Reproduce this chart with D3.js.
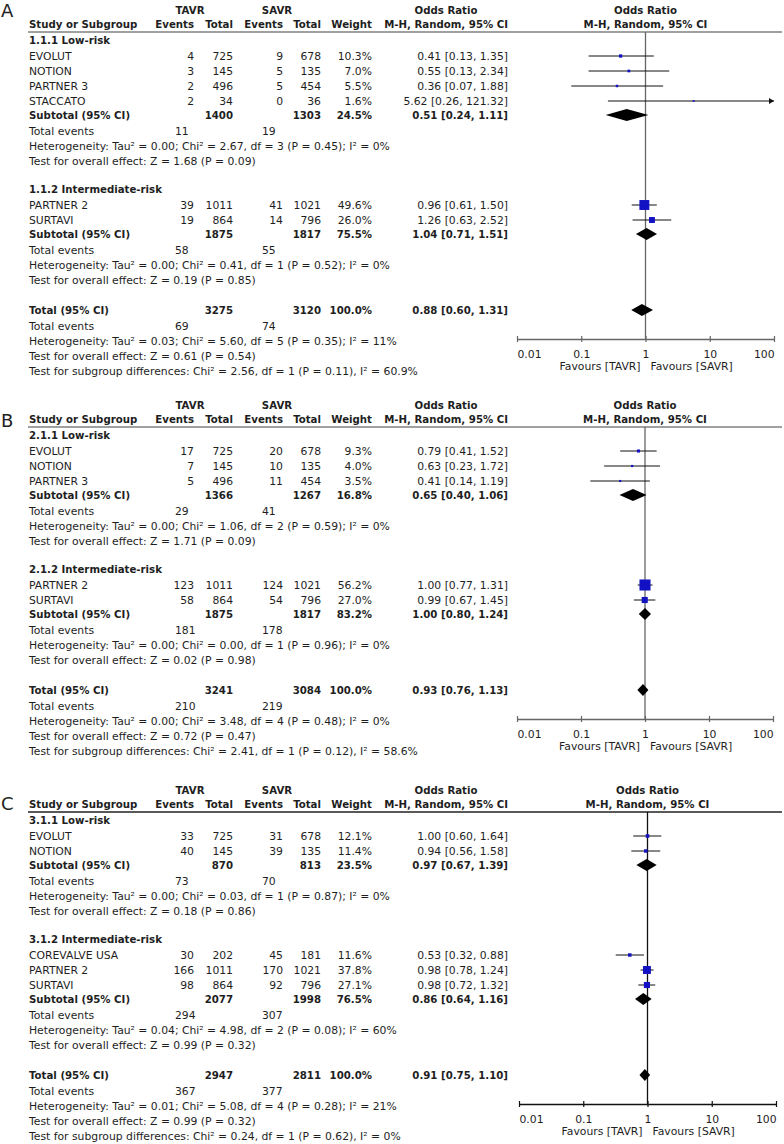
<!DOCTYPE html>
<html><head><meta charset="utf-8">
<script src="https://cdn.jsdelivr.net/npm/d3@7"></script>
<style>
html,body{margin:0;padding:0;background:#fff;}
svg text{font-family:"DejaVu Sans",sans-serif;}
</style></head>
<body><svg id="chart" width="784" height="1144"></svg>
<script>
// ---------- DATA ----------
const panelLetters = ["A", "B", "C"];
const subgroupTitles = [
  ["1.1.1 Low-risk", "1.1.2 Intermediate-risk"],
  ["2.1.1 Low-risk", "2.1.2 Intermediate-risk"],
  ["3.1.1 Low-risk", "3.1.2 Intermediate-risk"]
];
const studyNames = [
  [["EVOLUT", "NOTION", "PARTNER 3", "STACCATO"], ["PARTNER 2", "SURTAVI"]],
  [["EVOLUT", "NOTION", "PARTNER 3"], ["PARTNER 2", "SURTAVI"]],
  [["EVOLUT", "NOTION"], ["COREVALVE USA", "PARTNER 2", "SURTAVI"]]
];
const tavrEvents = [[[4, 3, 2, 2], [39, 19]], [[17, 7, 5], [123, 58]], [[33, 40], [30, 166, 98]]];
const tavrTotal = [[[725, 145, 496, 34], [1011, 864]], [[725, 145, 496], [1011, 864]], [[725, 145], [202, 1011, 864]]];
const savrEvents = [[[9, 5, 5, 0], [41, 14]], [[20, 10, 11], [124, 54]], [[31, 39], [45, 170, 92]]];
const savrTotal = [[[678, 135, 454, 36], [1021, 796]], [[678, 135, 454], [1021, 796]], [[678, 135], [181, 1021, 796]]];
const studyWeight = [[[10.3, 7.0, 5.5, 1.6], [49.6, 26.0]], [[9.3, 4.0, 3.5], [56.2, 27.0]], [[12.1, 11.4], [11.6, 37.8, 27.1]]];
const studyOR = [[[0.41, 0.55, 0.36, 5.62], [0.96, 1.26]], [[0.79, 0.63, 0.41], [1.00, 0.99]], [[1.00, 0.94], [0.53, 0.98, 0.98]]];
const studyLow = [[[0.13, 0.13, 0.07, 0.26], [0.61, 0.63]], [[0.41, 0.23, 0.14], [0.77, 0.67]], [[0.60, 0.56], [0.32, 0.78, 0.72]]];
const studyHigh = [[[1.35, 2.34, 1.88, 121.32], [1.50, 2.52]], [[1.52, 1.72, 1.19], [1.31, 1.45]], [[1.64, 1.58], [0.88, 1.24, 1.32]]];

const subTavrTotal = [[1400, 1875], [1366, 1875], [870, 2077]];
const subSavrTotal = [[1303, 1817], [1267, 1817], [813, 1998]];
const subWeight = [[24.5, 75.5], [16.8, 83.2], [23.5, 76.5]];
const subOR = [[0.51, 1.04], [0.65, 1.00], [0.97, 0.86]];
const subLow = [[0.24, 0.71], [0.40, 0.80], [0.67, 0.64]];
const subHigh = [[1.11, 1.51], [1.06, 1.24], [1.39, 1.16]];
const subTavrEvents = [[11, 58], [29, 181], [73, 294]];
const subSavrEvents = [[19, 55], [41, 178], [70, 307]];
const subHet = [
  ["Tau² = 0.00; Chi² = 2.67, df = 3 (P = 0.45); I² = 0%", "Tau² = 0.00; Chi² = 0.41, df = 1 (P = 0.52); I² = 0%"],
  ["Tau² = 0.00; Chi² = 1.06, df = 2 (P = 0.59); I² = 0%", "Tau² = 0.00; Chi² = 0.00, df = 1 (P = 0.96); I² = 0%"],
  ["Tau² = 0.00; Chi² = 0.03, df = 1 (P = 0.87); I² = 0%", "Tau² = 0.04; Chi² = 4.98, df = 2 (P = 0.08); I² = 60%"]
];
const subEffect = [
  ["Z = 1.68 (P = 0.09)", "Z = 0.19 (P = 0.85)"],
  ["Z = 1.71 (P = 0.09)", "Z = 0.02 (P = 0.98)"],
  ["Z = 0.18 (P = 0.86)", "Z = 0.99 (P = 0.32)"]
];
const totTavrTotal = [3275, 3241, 2947];
const totSavrTotal = [3120, 3084, 2811];
const totOR = [0.88, 0.93, 0.91];
const totLow = [0.60, 0.76, 0.75];
const totHigh = [1.31, 1.13, 1.10];
const totTavrEvents = [69, 210, 367];
const totSavrEvents = [74, 219, 377];
const totHet = [
  "Tau² = 0.03; Chi² = 5.60, df = 5 (P = 0.35); I² = 11%",
  "Tau² = 0.00; Chi² = 3.48, df = 4 (P = 0.48); I² = 0%",
  "Tau² = 0.01; Chi² = 5.08, df = 4 (P = 0.28); I² = 21%"
];
const totEffect = ["Z = 0.61 (P = 0.54)", "Z = 0.72 (P = 0.47)", "Z = 0.99 (P = 0.32)"];
const subgroupDiff = [
  "Chi² = 2.56, df = 1 (P = 0.11), I² = 60.9%",
  "Chi² = 2.41, df = 1 (P = 0.12), I² = 58.6%",
  "Chi² = 0.24, df = 1 (P = 0.62), I² = 0%"
];
const axisTicks = [0.01, 0.1, 1, 10, 100];

// ---------- LAYOUT ----------
const svg = d3.select("#chart");
svg.append("rect").attr("width", 784).attr("height", 1144).attr("fill", "#fff");

const panelTop = [0, 395, 780];
const letterY = [10, 420, 803];
const xRanges = [[517, 774], [517, 773], [519, 776]];
const headLineColor = ["#808080", "#808080", "#222"];
const plotLineColor = ["#666", "#666", "#111"];
const FS = 10.8, FSB = 10.2;
const TXT = "#1e1e1e";
const BLUE = "#1212c4";
const col = { name: 29, tEv: 194, tTot: 233, sEv: 283, sTot: 321, w: 372, or: 508, teT: 175, teS: 262 };
const sizeScale = d3.scaleLinear().domain([0, 100]).range([1.5, 18.5]);
const fmtOR = (o, l, h) => `${o.toFixed(2)} [${l.toFixed(2)}, ${h.toFixed(2)}]`;
const fmtW = w => w.toFixed(1) + "%";

function txt(g, x, yc, s, opts = {}) {
  return g.append("text")
    .attr("x", x).attr("y", yc + 4)
    .attr("text-anchor", opts.anchor || "start")
    .attr("font-size", opts.bold ? FSB : FS)
    .attr("font-weight", opts.bold ? "bold" : "normal")
    .attr("fill", TXT)
    .text(s);
}

panelLetters.forEach((letter, p) => {
  const top = panelTop[p];
  const g = svg.append("g");
  const x = d3.scaleLog().domain([0.01, 100]).range(xRanges[p]);
  const xc = (xRanges[p][0] + xRanges[p][1]) / 2;

  // panel letter
  g.append("text").attr("x", 1).attr("y", letterY[p] + 7)
    .attr("font-family", "Liberation Sans, sans-serif").attr("font-size", 18)
    .attr("fill", "#222").text(letter);

  // headers
  const h1 = top + 10, h2 = top + 24;
  txt(g, 190, h1, "TAVR", { bold: true, anchor: "middle" });
  txt(g, 277, h1, "SAVR", { bold: true, anchor: "middle" });
  txt(g, 446, h1, "Odds Ratio", { bold: true, anchor: "middle" });
  txt(g, xc, h1, "Odds Ratio", { bold: true, anchor: "middle" });
  txt(g, col.name, h2, "Study or Subgroup", { bold: true });
  txt(g, col.tEv, h2, "Events", { bold: true, anchor: "end" });
  txt(g, col.tTot, h2, "Total", { bold: true, anchor: "end" });
  txt(g, col.sEv, h2, "Events", { bold: true, anchor: "end" });
  txt(g, col.sTot, h2, "Total", { bold: true, anchor: "end" });
  txt(g, col.w, h2, "Weight", { bold: true, anchor: "end" });
  txt(g, col.or, h2, "M-H, Random, 95% CI", { bold: true, anchor: "end" });
  txt(g, xc, h2, "M-H, Random, 95% CI", { bold: true, anchor: "middle" });

  const lineY = top + 32;
  g.append("line").attr("x1", 28).attr("x2", 782).attr("y1", lineY).attr("y2", lineY)
    .attr("stroke", headLineColor[p]).attr("stroke-width", 1.5);

  // compute rows
  let y = top + 40;
  const marks = [];
  const diamonds = [];
  subgroupTitles[p].forEach((title, s) => {
    txt(g, col.name, y, title, { bold: true });
    y += 16;
    studyNames[p][s].forEach((nm, i) => {
      txt(g, col.name, y, nm);
      txt(g, col.tEv, y, tavrEvents[p][s][i], { anchor: "end" });
      txt(g, col.tTot, y, tavrTotal[p][s][i], { anchor: "end" });
      txt(g, col.sEv, y, savrEvents[p][s][i], { anchor: "end" });
      txt(g, col.sTot, y, savrTotal[p][s][i], { anchor: "end" });
      txt(g, col.w, y, fmtW(studyWeight[p][s][i]), { anchor: "end" });
      txt(g, col.or, y, fmtOR(studyOR[p][s][i], studyLow[p][s][i], studyHigh[p][s][i]), { anchor: "end" });
      marks.push({ y, or: studyOR[p][s][i], lo: studyLow[p][s][i], hi: studyHigh[p][s][i], w: studyWeight[p][s][i] });
      y += 15;
    });
    y -= 1;
    txt(g, col.name, y, "Subtotal (95% CI)", { bold: true });
    txt(g, col.tTot, y, subTavrTotal[p][s], { bold: true, anchor: "end" });
    txt(g, col.sTot, y, subSavrTotal[p][s], { bold: true, anchor: "end" });
    txt(g, col.w, y, fmtW(subWeight[p][s]), { bold: true, anchor: "end" });
    txt(g, col.or, y, fmtOR(subOR[p][s], subLow[p][s], subHigh[p][s]), { bold: true, anchor: "end" });
    diamonds.push({ y, or: subOR[p][s], lo: subLow[p][s], hi: subHigh[p][s] });
    y += 16;
    txt(g, col.name, y, "Total events");
    txt(g, col.teT, y, subTavrEvents[p][s]);
    txt(g, col.teS, y, subSavrEvents[p][s]);
    y += 15;
    txt(g, col.name, y, "Heterogeneity: " + subHet[p][s]);
    y += 15;
    txt(g, col.name, y, "Test for overall effect: " + subEffect[p][s]);
    y += 28;
  });
  y += 2;
  const totalY = y;
  txt(g, col.name, y, "Total (95% CI)", { bold: true });
  txt(g, col.tTot, y, totTavrTotal[p], { bold: true, anchor: "end" });
  txt(g, col.sTot, y, totSavrTotal[p], { bold: true, anchor: "end" });
  txt(g, col.w, y, fmtW(100), { bold: true, anchor: "end" });
  txt(g, col.or, y, fmtOR(totOR[p], totLow[p], totHigh[p]), { bold: true, anchor: "end" });
  diamonds.push({ y, or: totOR[p], lo: totLow[p], hi: totHigh[p] });
  y += 16;
  txt(g, col.name, y, "Total events");
  txt(g, col.teT, y, totTavrEvents[p]);
  txt(g, col.teS, y, totSavrEvents[p]);
  y += 15;
  txt(g, col.name, y, "Heterogeneity: " + totHet[p]);
  y += 15;
  txt(g, col.name, y, "Test for overall effect: " + totEffect[p]);
  y += 15;
  txt(g, col.name, y, "Test for subgroup differences: " + subgroupDiff[p]);

  const axisY = totalY + 29;

  // vertical line of no effect
  g.append("line").attr("x1", x(1)).attr("x2", x(1)).attr("y1", lineY).attr("y2", axisY)
    .attr("stroke", plotLineColor[p]).attr("stroke-width", 1.3);

  // CI lines and squares
  const maxV = x.domain()[1];
  marks.forEach(m => {
    const hiC = Math.min(m.hi, maxV);
    g.append("line").attr("x1", x(m.lo)).attr("x2", x(hiC)).attr("y1", m.y).attr("y2", m.y)
      .attr("stroke", "#111").attr("stroke-width", 1);
    if (m.hi > maxV) {
      const ax = x(maxV);
      g.append("path").attr("d", `M${ax},${m.y}L${ax - 5},${m.y - 3}L${ax - 5},${m.y + 3}Z`).attr("fill", "#111");
    }
    const s = sizeScale(m.w);
    g.append("rect").attr("x", x(m.or) - s / 2).attr("y", m.y - s / 2)
      .attr("width", s).attr("height", s).attr("fill", BLUE);
  });
  diamonds.forEach(d => {
    const h = 6;
    g.append("path")
      .attr("d", `M${x(d.lo)},${d.y}L${x(d.or)},${d.y - h}L${x(d.hi)},${d.y}L${x(d.or)},${d.y + h}Z`)
      .attr("fill", "#000");
  });

  // axis
  const ax = g.append("g").attr("transform", `translate(0,${axisY})`)
    .call(d3.axisBottom(x).tickValues(axisTicks).tickFormat(d => String(d)).tickSize(3).tickSizeOuter(0));
  ax.select(".domain").attr("stroke", plotLineColor[p]).attr("stroke-width", 1.3);
  ax.selectAll(".tick line").attr("y1", -3).attr("y2", 3).attr("stroke", plotLineColor[p]).attr("stroke-width", 1.2);
  ax.selectAll(".tick text").attr("y", 11).attr("font-size", FS).attr("font-family", "DejaVu Sans, sans-serif").attr("fill", TXT)
    .attr("text-anchor", (d, i, n) => i === 0 ? "start" : (i === n.length - 1 ? "end" : "middle"));
  txt(g, x(1) - 5, axisY + 27, "Favours [TAVR]", { anchor: "end" });
  txt(g, x(1) + 5, axisY + 27, "Favours [SAVR]", { anchor: "start" });
});
</script>
</body></html>
